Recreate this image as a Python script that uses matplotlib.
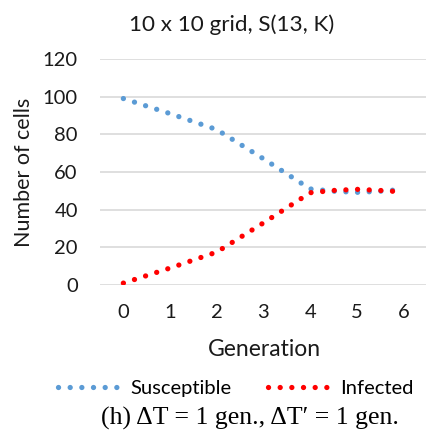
import matplotlib
matplotlib.use("Agg")
import matplotlib.pyplot as plt
from matplotlib.lines import Line2D

# values
generation = [0, 1, 2, 3, 4, 4.5, 5, 5.5, 6]
susceptible = [99, 91, 82.5, 67, 51, 49.8, 49.2, 49.8, 50.8]
infected = [1, 9, 17.5, 33, 49, 50.2, 50.8, 50.2, 49.4]
x_ticks = [0, 1, 2, 3, 4, 5, 6]
y_ticks = [0, 20, 40, 60, 80, 100, 120]

BLUE = "#5B9BD5"
RED = "#FF0000"
plt.rcParams["font.family"] = ["Lato", "DejaVu Sans"]

W, H = 427, 441
fig = plt.figure(figsize=(W / 100, H / 100), dpi=100)
ax = fig.add_axes([100 / W, 1 - 285 / H, 327 / W, 226 / H])

dots = dict(linestyle=(0, (0.01, 2.2)), linewidth=3.8, dash_capstyle="round")
ax.plot(generation, susceptible, color=BLUE, **dots)
ax.plot(generation, infected, color=RED, **dots)

ax.set_xlim(-0.5, 6.5)
ax.set_ylim(0, 120)
ax.set_xticks(x_ticks)
ax.set_yticks(y_ticks)
ax.tick_params(length=0, labelsize=14.5, colors="#1a1a1a")
ax.tick_params(axis="x", pad=14)
ax.tick_params(axis="y", pad=16)
ax.yaxis.grid(True, color="#D9D9D9", linewidth=1.2)
ax.set_axisbelow(True)
for s in ax.spines.values():
    s.set_visible(False)

fig.text(24 / W, 1 - 172 / H, "Number of cells", fontsize=15.5, rotation=90,
         ha="center", va="center", color="#1a1a1a")
fig.text(264.5 / W, 1 - 350 / H, "Generation", fontsize=16.5,
         ha="center", va="center", color="#1a1a1a")
fig.text(232 / W, 1 - 25 / H, "10 x 10 grid, S(13, K)", fontsize=16.2,
         ha="center", va="center", color="#1a1a1a")

handles = [Line2D([], [], color=BLUE, **dots), Line2D([], [], color=RED, **dots)]
fig.legend(handles, ["Susceptible", "Infected"], loc="center",
           bbox_to_anchor=(236 / W, 1 - 388 / H), ncol=2, frameon=False,
           fontsize=14.5, handlelength=3.0, columnspacing=1.8, handletextpad=0.6)

fig.text(250 / W, 1 - 418 / H, "(h) \u0394T = 1 gen., \u0394T\u2032 = 1 gen.",
         fontsize=18.5, family=["Liberation Serif", "DejaVu Serif"],
         ha="center", va="center", color="black")

fig.savefig("out.png", dpi=100)
